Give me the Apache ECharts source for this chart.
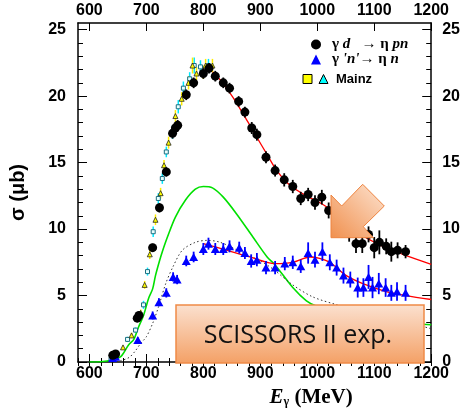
<!DOCTYPE html>
<html><head><meta charset="utf-8">
<script src="https://cdn.jsdelivr.net/npm/echarts@6/dist/echarts.min.js"></script>
<style>html,body{margin:0;padding:0;background:#fff}#c{width:463px;height:415px}</style>
</head><body><div id="c"></div>
<script>
// ---- tick labels ----
const xMajorTicks = [600, 700, 800, 900, 1000, 1100, 1200];
const yMajorTicks = [0, 5, 10, 15, 20, 25];

// ---- gamma d -> eta p n (black circles) ----
const gdE   = [641,646,684,687,711,723,735,746,751,755,770,783,800,810,821,835,846,862,873,885,894,910,926,942,957,971,984,996,1008,1020,1032,1044,1056,1068,1079,1090,1100,1109,1121,1130,1141,1155];
const gdSig = [0.5,0.6,3.3,3.5,8.6,11.6,14.3,17.2,17.6,17.8,20.1,21.0,21.7,22.1,21.5,21.0,20.6,19.6,18.8,17.6,17.1,15.4,14.4,13.7,13.2,12.3,12.6,12.0,12.4,11.4,10.9,10.3,9.7,8.9,8.9,9.6,8.6,9.0,8.7,8.3,8.4,8.3];
const gdErr = [0.2,0.2,0.3,0.3,0.3,0.35,0.35,0.4,0.4,0.4,0.4,0.4,0.4,0.4,0.4,0.4,0.4,0.4,0.4,0.45,0.45,0.45,0.45,0.5,0.5,0.5,0.5,0.55,0.55,0.6,0.6,0.65,0.65,0.7,0.7,0.6,0.8,0.9,0.6,0.75,0.6,0.5];

// ---- gamma 'n' -> eta n (blue triangles) ----
const gnE   = [641,646,685,711,722,735,747,754,770,783,800,809,821,835,846,863,873,884,894,910,926,943,957,971,984,996,1009,1022,1034,1046,1058,1071,1081,1090,1097,1108,1120,1130,1140,1155];
const gnSig = [0.3,0.4,1.65,3.5,4.5,5.2,6.4,6.2,7.6,7.9,8.5,8.9,8.5,8.5,8.7,8.6,8.2,7.6,7.7,7.1,7.1,7.4,7.5,7.2,8.2,7.7,8.3,7.5,7.1,6.5,6.2,5.6,5.6,6.4,5.6,5.9,5.6,5.2,5.3,5.2];
const gnErr = [0.15,0.15,0.2,0.3,0.3,0.35,0.35,0.35,0.4,0.4,0.45,0.45,0.45,0.45,0.45,0.45,0.45,0.5,0.5,0.5,0.5,0.5,0.5,0.5,0.8,0.6,0.7,0.6,0.6,0.6,0.6,0.75,0.7,0.9,0.8,0.8,0.7,0.6,0.7,0.6];

// ---- Mainz (squares / triangles) ----
const mzSqE   = [638,667,681,695,702,712,721,728,735,746,756,765,776,784,795,809];
const mzSqSig = [0.2,1.7,2.4,4.3,6.8,9.8,12.3,13.8,15.8,17.3,19.2,20.6,21.3,22.3,22.2,22.3];
const mzSqErr = [0.1,0.2,0.2,0.3,0.3,0.4,0.4,0.4,0.4,0.5,0.5,0.5,0.5,0.6,0.5,0.5];
const mzTrE   = [659,674,690,697,706,716,725,731,739,751,762,774,781,788,800,804,816];
const mzTrSig = [1.1,2.0,3.7,5.8,8.1,10.7,12.7,14.8,16.5,18.5,19.8,21.0,22.3,21.7,21.8,22.3,22.3];
const mzTrErr = [0.15,0.2,0.25,0.3,0.35,0.4,0.4,0.4,0.45,0.45,0.5,0.5,0.6,0.5,0.5,0.5,0.5];

// ---- curves ----
const fitGdE   = [805,812,830,852,879,894,912,929,952,981,1004,1022,1050,1080,1110,1121,1156,1200];
const fitGdSig = [22.1,22.0,21.2,19.9,18.0,16.9,15.6,14.4,13.3,12.5,12.0,11.5,10.5,9.5,8.8,8.6,8.0,7.35];
const fitGnE   = [800,842,882,926,957,987,1004,1022,1051,1080,1121,1156,1200];
const fitGnSig = [8.9,8.4,7.9,7.4,7.5,7.9,7.8,7.5,6.5,5.9,5.3,5.0,4.7];
const greenE   = [600,620,640,655,669,678,686,695,704,711,716,723,728,737,751,769,786,800,816,835,859,887,912,926,957,981,999,1050,1100,1150,1200];
const greenSig = [0,0.02,0.15,0.4,1.3,1.7,2.6,3.5,4.8,5.5,6.5,7.6,8.3,9.4,10.9,12.2,13.0,13.2,13.1,12.4,11.1,9.4,7.9,7.3,5.6,4.6,4.2,3.6,3.2,2.95,2.8];
const dotE     = [640,655,670,680,690,700,711,721,734,746,763,786,807,830,865,900,922,957,992,1035,1080,1120,1174,1200];
const dotSig   = [0,0.1,0.35,0.8,1.4,1.9,2.9,4.1,5.9,7.1,8.4,9.0,9.15,9.0,8.3,7.6,7.0,5.8,4.9,4.3,3.8,3.3,2.8,2.5];

const zip2 = (a, b) => a.map((v, i) => [v, b[i]]);
const errData = (e, s, d) => e.map((v, i) => [v, s[i] - d[i], s[i] + d[i]]);

function errSeries(data, color, w, z) {
  return {
    type: 'custom', data: data, z: z, silent: true,
    renderItem: function (params, api) {
      const p1 = api.coord([api.value(0), api.value(1)]);
      const p2 = api.coord([api.value(0), api.value(2)]);
      return { type: 'line', shape: { x1: p1[0], y1: p1[1], x2: p2[0], y2: p2[1] },
               style: { stroke: color, lineWidth: w } };
    }
  };
}

const xMinor = []; for (let v = 580; v <= 1200; v += 20) xMinor.push(v);
const yMinor = []; for (let v = 0; v <= 25; v += 1) yMinor.push(v);

const labelFont = { fontSize: 16, fontWeight: 'bold', color: '#000', fontFamily: 'Liberation Sans, Arial, sans-serif',
                    formatter: function (v) { return String(v); } };
const lineSt = { color: '#000', width: 1.5 };

function xAxisMajor(pos, withName) {
  const a = {
    type: 'value', position: pos, min: 580, max: 1200,
    axisLine: { show: true, onZero: false, lineStyle: lineSt },
    axisTick: { show: true, inside: true, length: 8, customValues: xMajorTicks, lineStyle: { color: '#000', width: 1 } },
    axisLabel: Object.assign({ show: true, customValues: xMajorTicks, margin: 4 }, labelFont),
    splitLine: { show: false }
  };
  if (withName) {
    a.name = '{e|E}{g|γ}{m| (MeV)}';
    a.nameLocation = 'middle';
    a.nameGap = 22;
    a.nameTextStyle = {
      padding: [0, 0, 0, 113],
      rich: {
        e: { fontFamily: 'Liberation Serif, serif', fontStyle: 'italic', fontWeight: 'bold', fontSize: 21, color: '#000' },
        g: { fontFamily: 'Liberation Serif, serif', fontWeight: 'bold', fontSize: 12, color: '#000', padding: [10, 0, 0, 0] },
        m: { fontFamily: 'Liberation Serif, serif', fontWeight: 'bold', fontSize: 21, color: '#000' }
      }
    };
  }
  return a;
}
function xAxisMinor(pos) {
  return {
    type: 'value', position: pos, min: 580, max: 1200,
    axisLine: { show: false },
    axisTick: { show: true, inside: true, length: 4, customValues: xMinor, lineStyle: { color: '#000', width: 1 } },
    axisLabel: { show: false }, splitLine: { show: false }
  };
}
function yAxisMajor(pos, withName) {
  const a = {
    type: 'value', position: pos, min: 0, max: 25.5,
    axisLine: { show: true, onZero: false, lineStyle: lineSt },
    axisTick: { show: true, inside: true, length: 9, customValues: yMajorTicks, lineStyle: { color: '#000', width: 1 } },
    axisLabel: Object.assign({ show: true, customValues: yMajorTicks, margin: pos === 'left' ? 12 : 11 }, labelFont),
    splitLine: { show: false }
  };
  if (withName) {
    a.name = 'σ (μb)';
    a.nameLocation = 'middle';
    a.nameGap = 50;
    a.nameTextStyle = { fontSize: 20, fontWeight: 'bold', color: '#000', fontFamily: 'Liberation Sans, Arial, sans-serif' };
  }
  return a;
}
function yAxisMinor(pos) {
  return {
    type: 'value', position: pos, min: 0, max: 25.5,
    axisLine: { show: false },
    axisTick: { show: true, inside: true, length: 5, customValues: yMinor, lineStyle: { color: '#000', width: 1 } },
    axisLabel: { show: false }, splitLine: { show: false }
  };
}

const nameGd = 'γ d → η pn';
const nameGn = "γ 'n' → η n";
const nameMzSq = 'Mainz ';
const nameMzTr = 'Mainz';

const legRich = {
  r: { fontFamily: 'Liberation Serif, serif', fontWeight: 'bold', fontSize: 15, lineHeight: 16, color: '#000' },
  i: { fontFamily: 'Liberation Serif, serif', fontWeight: 'bold', fontStyle: 'italic', fontSize: 15, lineHeight: 16, color: '#000' },
  s: { fontFamily: 'Liberation Sans, Arial, sans-serif', fontWeight: 'bold', fontSize: 13, lineHeight: 15, color: '#000', padding: [0, 0, 0, 3] },
  p: { width: 6, lineHeight: 16 }
};

const option = {
  animation: false,
  backgroundColor: '#fff',
  grid: { left: 77, right: 31, top: 23, bottom: 53, containLabel: false },
  xAxis: [xAxisMajor('bottom', true), xAxisMinor('bottom'), xAxisMajor('top', false), xAxisMinor('top')],
  yAxis: [yAxisMajor('left', true), yAxisMinor('left'), yAxisMajor('right', false), yAxisMinor('right')],
  legend: [
    {
      orient: 'vertical', left: 311, top: 37, padding: 0, itemWidth: 10, itemHeight: 10, itemGap: 0,
      selectedMode: false,
      data: [{ name: nameGd, icon: 'circle' }, { name: nameGn, icon: 'triangle' }],
      formatter: function (n) {
        if (n === nameGd) return '{p|}{r|γ }{i|d}{r|   → η }{i|pn}';
        return "{p|}{r|γ }{i|'n'}{r|→ η }{i|n}";
      },
      textStyle: { rich: legRich }
    },
    {
      orient: 'horizontal', left: 302.5, top: 72.5, padding: 0, itemWidth: 9, itemHeight: 9, itemGap: 6,
      selectedMode: false,
      data: [
        { name: nameMzSq, icon: 'rect', itemStyle: { color: '#ffff00', borderColor: '#000', borderWidth: 1 } },
        { name: nameMzTr, icon: 'triangle', itemStyle: { color: '#00ffff', borderColor: '#000', borderWidth: 1 } }
      ],
      formatter: function (n) { return n === nameMzSq ? '' : '{s|Mainz}'; },
      textStyle: { rich: legRich }
    }
  ],
  series: [
    { type: 'line', data: zip2(greenE, greenSig), smooth: 0.3, showSymbol: false, symbol: 'none',
      lineStyle: { color: '#00e000', width: 1.6 }, z: 2, silent: true },
    { type: 'line', data: zip2(dotE, dotSig), smooth: 0.3, showSymbol: false, symbol: 'none',
      lineStyle: { color: '#333', width: 1, type: [1.5, 2.5] }, z: 2, silent: true },
    { type: 'line', data: zip2(fitGdE, fitGdSig), smooth: 0.3, showSymbol: false, symbol: 'none',
      lineStyle: { color: '#ff0000', width: 1.3 }, z: 2, silent: true },
    { type: 'line', data: zip2(fitGnE, fitGnSig), smooth: 0.3, showSymbol: false, symbol: 'none',
      lineStyle: { color: '#ff0000', width: 1.3 }, z: 2, silent: true },
    errSeries(errData(mzSqE, mzSqSig, mzSqErr), '#00e8ff', 1.5, 3),
    errSeries(errData(mzTrE, mzTrSig, mzTrErr), '#ffee00', 1.5, 3),
    { name: nameMzSq, type: 'scatter', data: zip2(mzSqE, mzSqSig), symbol: 'rect', symbolSize: 4,
      itemStyle: { color: '#e8ffff', borderColor: '#1b6f80', borderWidth: 1, opacity: 1 }, z: 4, silent: true },
    { name: nameMzTr, type: 'scatter', data: zip2(mzTrE, mzTrSig), symbol: 'triangle', symbolSize: 5,
      itemStyle: { color: '#ffff00', borderColor: '#222', borderWidth: 0.8, opacity: 1 }, z: 4, silent: true },
    errSeries(errData(gnE, gnSig, gnErr), '#0000ff', 1.8, 5),
    { name: nameGn, type: 'scatter', data: zip2(gnE, gnSig), symbol: 'triangle', symbolSize: [9, 8],
      itemStyle: { color: '#0000ff', opacity: 1 }, z: 6, silent: true },
    errSeries(errData(gdE, gdSig, gdErr), '#000', 1.8, 7),
    { name: nameGd, type: 'scatter', data: zip2(gdE, gdSig), symbol: 'circle', symbolSize: 9,
      itemStyle: { color: '#000', opacity: 1 }, z: 8, silent: true }
  ],
  graphic: [
    {
      type: 'polygon', z: 100,
      shape: { points: [[331, 195], [341.7, 206], [362.7, 184.3], [384.3, 206], [363.3, 226.7], [373.3, 237.7], [331, 237.7]] },
      style: {
        fill: { type: 'linear', x: 1, y: 0, x2: 0, y2: 1,
                colorStops: [{ offset: 0, color: '#fde4d2' }, { offset: 1, color: '#f0904e' }] },
        stroke: '#ee8440', lineWidth: 1
      }
    },
    {
      type: 'rect', z: 100,
      shape: { x: 176, y: 305, width: 248, height: 58 },
      style: {
        fill: { type: 'linear', x: 0, y: 0, x2: 0, y2: 1,
                colorStops: [{ offset: 0, color: '#fbe1d0' }, { offset: 1, color: '#f4a065' }] },
        stroke: '#ef8a47', lineWidth: 1.5
      }
    },
    {
      type: 'text', z: 101, x: 298, y: 336,
      style: { text: 'SCISSORS II exp.', fill: '#111', font: '25px "Open Sans", Lato, sans-serif',
               textAlign: 'center', textVerticalAlign: 'middle' }
    }
  ]
};

const chart = echarts.init(document.getElementById('c'), null, { renderer: 'canvas' });
chart.setOption(option);
</script>
</body></html>
